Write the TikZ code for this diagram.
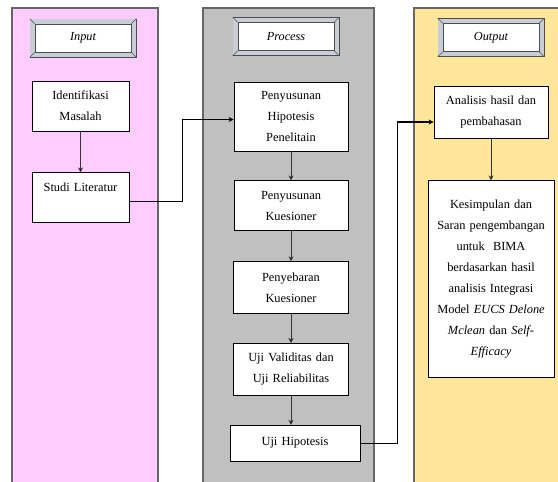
\documentclass[tikz,border=0pt]{standalone}
\usepackage{fontspec}
\setmainfont{Liberation Serif}
\usepackage{tikz}
\usetikzlibrary{arrows, arrows.meta, positioning, calc}
\definecolor{inpink}{HTML}{FFCCFF}
\definecolor{procgray}{HTML}{C0C0C0}
\definecolor{outyellow}{HTML}{FFE699}
\definecolor{bevelgray}{HTML}{C9CDD6}

\begin{document}
\begin{tikzpicture}[x=1pt,y=-1pt,>={Stealth[length=5pt,width=5pt]},node distance=29pt,
		column/.style={draw=gray!80!black,line width=1.2pt},
		title box/.style={draw=gray!60!black,fill=white,line width=0.6pt,
			minimum width=96pt,minimum height=28pt,
			preaction={draw=gray!60!black,line width=11pt},
			preaction={draw=bevelgray,line width=9.6pt},
			font=\fontsize{12.3pt}{15pt}\selectfont\itshape},
		main box/.style={draw,fill=white,line width=0.8pt,align=center,inner sep=2pt,
			font=\fontsize{12.4pt}{21pt}\selectfont},
		flow/.style={->,draw=black!80,line width=0.6pt},
		link/.style={->,line width=1.3pt}]
		
		\useasboundingbox (0,0) rectangle (558,482);
		
		% columns
		\filldraw[column,fill=inpink] (12,8) rectangle (158,490);
		\filldraw[column,fill=procgray] (203,8) rectangle (374,490);
		\filldraw[column,fill=outyellow] (414,8) rectangle (565,490);
		
		\node[title box] (tin) at (83,38) {Input};
		\node[title box] (tpr) at (286,36.5) {Process};
		\node[title box] (tout) at (491,37.5) {Output};
		\foreach \t in {tin,tpr,tout}
		\foreach \c/\dx/\dy in {north west/-5/-5,north east/5/-5,south west/-5/5,south east/5/5}
		\draw[gray!60!black,line width=0.4pt] (\t.\c) -- ++(\dx,\dy);
		
		% input
		\node[main box,text width=93pt,minimum height=50pt] (idm) at (80.5,106) {Identifikasi\\Masalah};
		\node[main box,text width=93pt,minimum height=50pt] (stl) [below=41pt of idm] {Studi Literatur\\\mbox{}};
		
		% process
		\node[main box,text width=110pt,minimum height=69pt] (hip) at (291,116.5) {Penyusunan\\Hipotesis\\Penelitain};
		\node[main box,text width=110pt,minimum height=50pt] (kue) [below=of hip] {Penyusunan\\Kuesioner};
		\node[main box,text width=111pt,minimum height=52pt] (seb) [below=30pt of kue] {Penyebaran\\Kuesioner};
		\node[main box,text width=111pt,minimum height=52pt] (val) [below=of seb] {Uji Validitas dan\\Uji Reliabilitas};
		\node[main box,text width=126pt,minimum height=36pt] (uhp) [below=of val,xshift=4pt] {Uji Hipotesis};
		
		% output
		\node[main box,text width=110pt,minimum height=52pt] (ana) at (491,112) {Analisis hasil dan\\pembahasan};
		\node[main box,text width=122pt,minimum height=197pt] (kes) [below=42pt of ana]
		{Kesimpulan dan\\Saran pengembangan\\untuk\ \ BIMA\\berdasarkan hasil\\analisis Integrasi\\Model \textit{EUCS Delone}\\\textit{Mclean} dan \textit{Self-}\\\textit{Efficacy}};
		
		\path[flow]
		(idm) edge (stl)
		(hip) edge (kue)
		(kue) edge (seb)
		(seb) edge (val)
		(val) edge (val |- uhp.north)
		(ana) edge (kes);
		
		\draw[link] ([yshift=-4pt]stl.east) -- ++(53,0) |- ([yshift=-3pt]hip.west);
		\draw[link] (uhp.east) -- ++(37,0) |- ([yshift=-10pt]ana.west);
		
	\end{tikzpicture}
\end{document}
